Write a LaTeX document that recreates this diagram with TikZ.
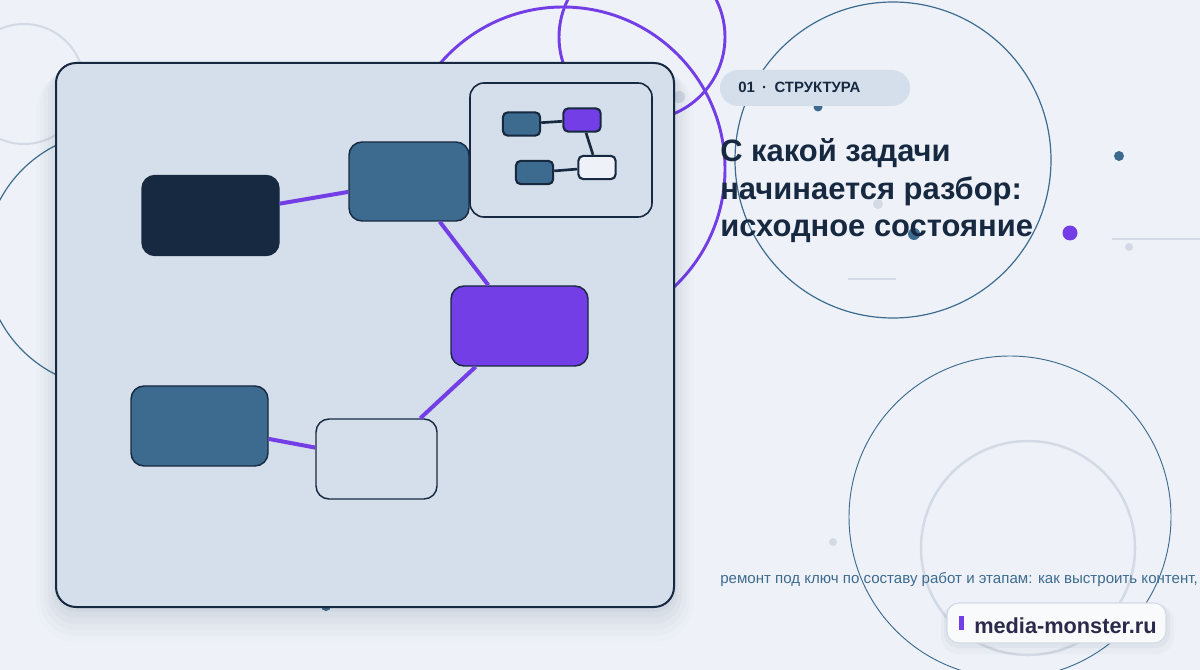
\documentclass[tikz,border=0pt]{standalone}
\usepackage{fontspec}
\setmainfont{Liberation Sans}
\usepackage{xcolor}
\definecolor{bgc}{HTML}{EEF2F8}
\definecolor{cardc}{HTML}{D5DFEB}
\definecolor{navyc}{HTML}{172940}
\definecolor{tealc}{HTML}{3D6B8F}
\definecolor{purplec}{HTML}{733EE6}
\definecolor{greyc}{HTML}{D3DAE5}
\definecolor{inkc}{HTML}{2B2A4A}
\definecolor{shadowc}{HTML}{1E3050}

\begin{document}
\begin{tikzpicture}[x=0.75pt,y=0.75pt,yscale=-1,xscale=1,
  box/.style={draw=navyc, line width=1.1pt, rounded corners=9.75pt, inner sep=0pt, minimum width=102.75pt, minimum height=60pt},
  minibox/.style={draw=navyc, line width=1.6pt, rounded corners=3.75pt, inner sep=0pt, minimum width=28pt, minimum height=17.5pt},
  link/.style={draw=purplec, line width=3pt},
  minilink/.style={draw=navyc, line width=2pt}]
\useasboundingbox (0,0) rectangle (1200,670);

%Shape: Background
\fill [bgc] (0,0) rectangle (1200,670);

%Shape: Circles behind
\draw [greyc, line width=1.5pt] (24,84) circle (60);
\draw [tealc, line width=0.9pt] (113,260) circle (128);
\draw [purplec, line width=2.2pt] (563,169) circle (162);
\draw [purplec, line width=2.2pt] (642,37) circle (83);
\draw [tealc, line width=0.9pt] (893,160) circle (158);
\draw [tealc, line width=0.7pt] (1010,517) circle (161);
\draw [greyc, line width=1.9pt] (1028,548) circle (107);

%Shape: Dots and short lines
\fill [tealc] (818,107) circle (4.5);
\fill [greyc] (878,204) circle (5);
\fill [tealc] (914,234) circle (6);
\fill [tealc] (1119,156) circle (5);
\fill [purplec] (1070,233) circle (7.5);
\fill [greyc] (1129,247) circle (4);
\fill [greyc] (833,542) circle (4);
\fill [greyc] (679,97) circle (6);
\fill [tealc] (326,606) circle (5);
\draw [greyc, line width=1.4pt] (1112,239) -- (1200,239);
\draw [greyc, line width=0.8pt] (848,279) -- (896,279);

%Shape: Card shadow
\fill [shadowc, opacity=0.012, rounded corners=30pt] (36,70) rectangle (694,642);
\fill [shadowc, opacity=0.015, rounded corners=27pt] (40,69) rectangle (690,636);
\fill [shadowc, opacity=0.018, rounded corners=24pt] (44,68) rectangle (686,630);
\fill [shadowc, opacity=0.022, rounded corners=21pt] (48,67) rectangle (682,624);
\fill [shadowc, opacity=0.026, rounded corners=18pt] (52,66) rectangle (678,618);
\fill [shadowc, opacity=0.03, rounded corners=16pt] (55,65) rectangle (676,612);

%Shape: Card
\draw [navyc, fill=cardc, line width=1.5pt, rounded corners=15pt] (56,63) rectangle (674,607);

%Shape: Inset
\draw [navyc, fill=cardc, line width=1.2pt, rounded corners=10.5pt] (470,83) rectangle (652,217);

% Main graph
\node [box, fill=navyc] (task) at (210.5,215.5) {};
\node [box, fill=tealc, minimum width=90pt, minimum height=59.25pt] (branch) at (409,181.5) {};
\node [box, fill=purplec] (focus) at (519.5,326) {};
\node [box, fill=tealc] (origin) at (199.5,426) {};
\node [box, fill=cardc, minimum width=90.75pt] (state) at (376.5,459) {};

\draw [link] (task) -- (branch);
\draw [link] (branch) -- (focus);
\draw [link] (focus) -- (state);
\draw [link] (origin) -- (state);

% Mini graph
\node [minibox, fill=tealc] (mTask) at (521.5,124) {};
\node [minibox, fill=purplec] (mFocus) at (582,120) {};
\node [minibox, fill=tealc] (mOrigin) at (534.5,172.5) {};
\node [minibox, fill=bgc] (mState) at (597,167.5) {};

\draw [minilink] (mTask) -- (mFocus);
\draw [minilink] (mFocus) -- (mState);
\draw [minilink] (mOrigin) -- (mState);

%Shape: Pill
\node [fill=cardc, rounded corners=13.5pt, minimum width=142.5pt, minimum height=27pt, inner sep=0pt] (pill) at (815,88) {};
% Text Node
\draw (738,93) node [anchor=base west, inner sep=0pt, text=navyc, font=\bfseries\fontsize{11.2}{13}\selectfont] (pilltext) {01\hspace{5.5pt}·\hspace{5.5pt}СТРУКТУРА};

% Text Node
\draw (720,162) node [anchor=base west, inner sep=0pt, text=navyc, font=\bfseries\fontsize{23.2}{28}\selectfont] (title1) {С какой задачи};
% Text Node
\draw (720,199.5) node [anchor=base west, inner sep=0pt, text=navyc, font=\bfseries\fontsize{23.2}{28}\selectfont] (title2) {начинается разбор:};
% Text Node
\draw (720,237) node [anchor=base west, inner sep=0pt, text=navyc, font=\bfseries\fontsize{23.2}{28}\selectfont] (title3) {исходное состояние};

% Text Node
\draw (720,583) node [anchor=base west, inner sep=0pt, text=tealc, font=\fontsize{11.3}{13}\selectfont] (subtitle) {ремонт под ключ по составу работ и этапам: как выстроить контент,};

%Shape: Badge
\fill [shadowc, opacity=0.03, rounded corners=13pt] (941,604) rectangle (1174,654);
\fill [shadowc, opacity=0.035, rounded corners=11pt] (944,604) rectangle (1170,648);
\node [draw=greyc, fill=white!60!bgc, line width=0.8pt, rounded corners=9pt, minimum width=164.25pt, minimum height=30pt, inner sep=0pt] (badge) at (1056.5,623) {};
\fill [purplec] (959,616) rectangle (964,630);
% Text Node
\draw (974,633) node [anchor=base west, inner sep=0pt, text=inkc, font=\bfseries\fontsize{16.3}{19}\selectfont] (site) {media-monster.ru};

\end{tikzpicture}
\end{document}
